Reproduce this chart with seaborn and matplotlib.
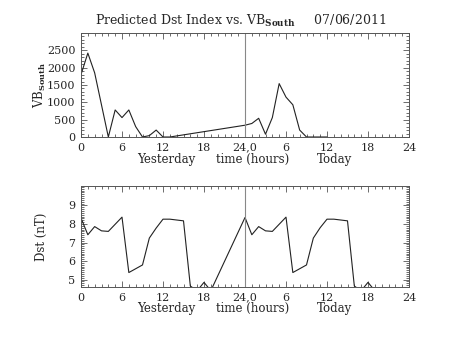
import matplotlib
matplotlib.use("Agg")
import matplotlib.pyplot as plt
import matplotlib.ticker as mticker
import seaborn as sns
import pandas as pd

# ---- data (hours: 0-24 yesterday, 24-48 today) ----
vb_hours = [0, 1, 2, 4, 5, 6, 7, 8, 9, 10, 11, 12, 13, 24, 25, 26, 27, 28, 29, 30, 31, 32, 33, 36]
vb_values = [1800, 2420, 1850, 0, 780, 560, 780, 300, 0, 40, 200, 0, 0,
             340, 390, 540, 80, 560, 1540, 1150, 930, 200, 0, 0]

dst_hours = [0, 1, 2, 3, 4, 6, 7, 9, 10, 11, 12, 13, 15, 16, 17, 18, 19,
             24, 25, 26, 27, 28, 30, 31, 33, 34, 35, 36, 37, 39, 40, 41, 42, 43]
dst_values = [8.32, 7.42, 7.86, 7.63, 7.60, 8.37, 5.38, 5.79, 7.24, 7.78, 8.26, 8.26, 8.17,
              4.65, 4.40, 4.85, 4.40,
              8.35, 7.42, 7.86, 7.63, 7.60, 8.37, 5.38, 5.79, 7.24, 7.80, 8.26, 8.26, 8.17,
              4.65, 4.40, 4.85, 4.40]

xtick_pos = [0, 6, 12, 18, 24, 30, 36, 42, 48]
xtick_labels = ["0", "6", "12", "18", "24,0", "6", "12", "18", "24"]
vb_ticks = [0, 500, 1000, 1500, 2000, 2500]
dst_ticks = [5, 6, 7, 8, 9]

title = r"Predicted Dst Index vs. VB$_{\mathbf{South}}$     07/06/2011"

sns.set_theme(style="white")
plt.rcParams["font.family"] = ["DejaVu Serif"]
plt.rcParams["mathtext.fontset"] = "dejavuserif"

fig = plt.figure(figsize=(4.53, 3.40), dpi=100)
ax1 = fig.add_axes([81/453, 1-137/340, 328/453, 104/340])
ax2 = fig.add_axes([81/453, 1-287/340, 328/453, 101/340])

df_vb = pd.DataFrame({"hour": vb_hours, "value": vb_values})
df_dst = pd.DataFrame({"hour": dst_hours, "value": dst_values})

lc = "#222222"
sns.lineplot(data=df_vb, x="hour", y="value", ax=ax1, color=lc, lw=0.8,
             sort=False, estimator=None)
sns.lineplot(data=df_dst, x="hour", y="value", ax=ax2, color=lc, lw=0.8,
             sort=False, estimator=None)

ax1.set_ylim(0, 3000)
ax2.set_ylim(4.6, 10.05)
ax1.set_yticks(vb_ticks)
ax2.set_yticks(dst_ticks)
ax1.yaxis.set_minor_locator(mticker.MultipleLocator(100))
ax2.yaxis.set_minor_locator(mticker.MultipleLocator(0.1))

for ax in (ax1, ax2):
    ax.set_xlim(0, 48)
    ax.set_xticks(xtick_pos)
    ax.set_xticklabels(xtick_labels)
    ax.xaxis.set_minor_locator(mticker.MultipleLocator(1))
    ax.axvline(24, color="#888888", lw=0.8)
    ax.tick_params(which="both", direction="in", top=True, right=True,
                   bottom=True, left=True, color="#555555", width=0.6,
                   labelsize=8, pad=4)
    ax.tick_params(which="major", length=4)
    ax.tick_params(which="minor", length=2)
    for s in ax.spines.values():
        s.set_color("#555555")
        s.set_linewidth(0.7)
    ax.set_xlabel("")
    tr = ax.get_xaxis_transform()
    for xpos, txt in [(12.4, "Yesterday"), (25.1, "time (hours)"), (37.1, "Today")]:
        ax.text(xpos, -0.215, txt, transform=tr, ha="center", va="center", fontsize=8.5)

ax1.set_ylabel(r"VB$_{\mathbf{South}}$", fontsize=8.5)
ax2.set_ylabel("Dst (nT)", fontsize=8.5)
ax1.yaxis.set_label_coords(-0.1, 0.5)
ax2.yaxis.set_label_coords(-0.1, 0.5)
fig.text(241/453, 1-21/340, title, ha="center", va="center", fontsize=9.0)

fig.savefig("out.png", dpi=100)
